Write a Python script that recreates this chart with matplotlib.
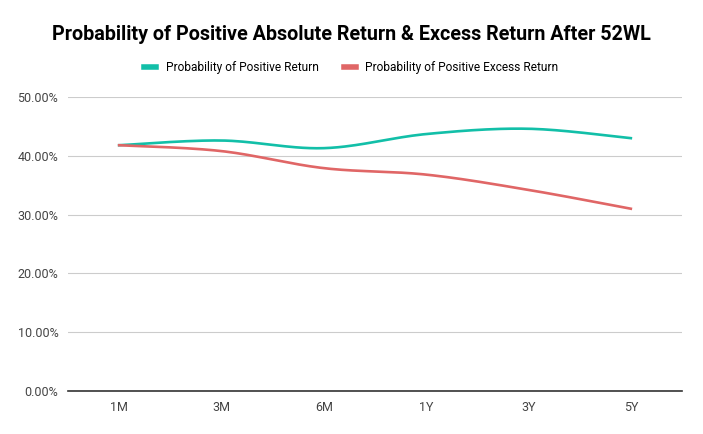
import matplotlib.pyplot as plt
import numpy as np

periods = ['1M', '3M', '6M', '1Y', '3Y', '5Y']
pos_return = [41.8, 42.6, 41.3, 43.7, 44.6, 43.0]
pos_excess = [41.8, 40.8, 37.9, 36.8, 34.2, 31.0]
yticks = [0, 10, 20, 30, 40, 50]

plt.rcParams['font.family'] = ['Roboto', 'DejaVu Sans']


def smooth(x, y, n=30):
    # catmull-rom style curve through the points
    x = np.asarray(x, float)
    y = np.asarray(y, float)
    xs, ys = [], []
    for i in range(len(x) - 1):
        p0 = np.array([x[max(i - 1, 0)], y[max(i - 1, 0)]])
        p1 = np.array([x[i], y[i]])
        p2 = np.array([x[i + 1], y[i + 1]])
        p3 = np.array([x[min(i + 2, len(x) - 1)], y[min(i + 2, len(x) - 1)]])
        c1 = p1 + (p2 - p0) / 6
        c2 = p2 - (p3 - p1) / 6
        t = np.linspace(0, 1, n)[:, None]
        pts = (1 - t) ** 3 * p1 + 3 * (1 - t) ** 2 * t * c1 + 3 * (1 - t) * t ** 2 * c2 + t ** 3 * p2
        xs.extend(pts[:, 0])
        ys.extend(pts[:, 1])
    return xs, ys


fig = plt.figure(figsize=(7.03, 4.34), dpi=100)
ax = fig.add_axes([68 / 703, 43 / 434, 614 / 703, 294 / 434])

x = np.arange(len(periods))
sx, sy = smooth(x, pos_return)
ax.plot(sx, sy, color='#12bfa8', lw=1.9, label='Probability of Positive Return')
sx, sy = smooth(x, pos_excess)
ax.plot(sx, sy, color='#e06666', lw=1.9, label='Probability of Positive Excess Return')

ax.set_xlim(-0.5, len(periods) - 0.5)
ax.set_ylim(0, 50)
ax.set_yticks(yticks)
ax.set_yticklabels(['{:.2f}%'.format(v) for v in yticks])
ax.set_xticks(x)
ax.set_xticklabels(periods)
ax.tick_params(length=0, labelsize=9, colors='#444444', pad=7)
ax.grid(axis='y', color='#cccccc', lw=0.8)
ax.set_axisbelow(True)
for s in ['top', 'right', 'left']:
    ax.spines[s].set_visible(False)
ax.spines['bottom'].set_color('#333333')
ax.spines['bottom'].set_linewidth(1.2)

fig.suptitle('Probability of Positive Absolute Return & Excess Return After 52WL',
             x=0.5, y=1 - 35 / 434, va='center', fontsize=14.2, fontweight='bold')
leg = fig.legend(loc='center', bbox_to_anchor=(0.5, 1 - 68 / 434), ncol=2, frameon=False,
                 fontsize=8.6, handlelength=1.0, columnspacing=2.1, handletextpad=0.8)
for h in leg.legend_handles:
    h.set_linewidth(4)

fig.savefig('out.png', dpi=100)
